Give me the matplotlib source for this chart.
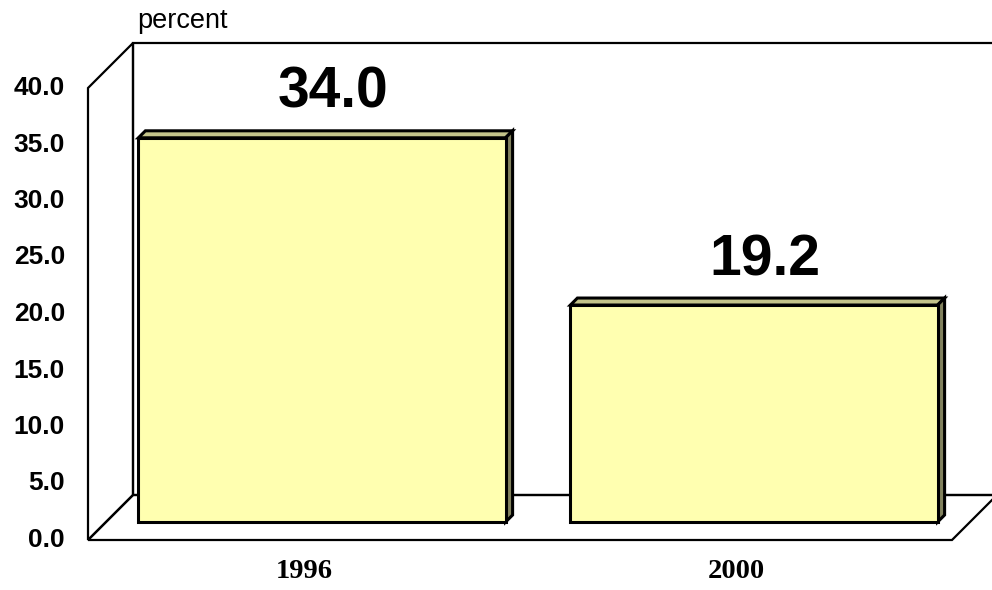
import matplotlib
matplotlib.use("Agg")
import matplotlib.pyplot as plt
from matplotlib.patches import Polygon

# Datos del gráfico
years = ["1996", "2000"]
values = [34.0, 19.2]
yticks = [0, 5, 10, 15, 20, 25, 30, 35, 40]

DPI = 100
fig = plt.figure(figsize=(9.92, 5.90), dpi=DPI)
ax = fig.add_axes([88 / 992, 50 / 590, 864 / 992, 452 / 590])
ax.set_xlim(0, 2)
ax.set_ylim(0, 40)
ax.axis("off")

# pixeles por unidad de datos, para convertir la profundidad 3D
x0, y0 = ax.transData.transform((0, 0))
x1, y1 = ax.transData.transform((1, 1))
ppx, ppy = x1 - x0, y1 - y0


def pt(x, y, d):
    """Punto (x, y) desplazado d pixeles en profundidad (arriba-derecha)."""
    return (x + d / ppx, y + d / ppy)


WALL = 45      # profundidad de las paredes en pixeles
D0, D1 = 18, 25  # profundidad de las barras
ymax = 40
wall_kw = dict(fill=False, edgecolor="black", linewidth=1.6, clip_on=False, zorder=1)

# pared del fondo
ax.add_patch(Polygon([pt(0, 0, WALL), pt(0, ymax, WALL), pt(2, ymax, WALL), pt(2, 0, WALL)],
                     closed=True, **wall_kw))
# pared lateral izquierda
ax.add_patch(Polygon([pt(0, 0, 0), pt(0, ymax, 0), pt(0, ymax, WALL), pt(0, 0, WALL)],
                     closed=True, **wall_kw))
# suelo
ax.add_patch(Polygon([pt(0, 0, 0), pt(2, 0, 0), pt(2, 0, WALL), pt(0, 0, WALL)],
                     closed=True, **wall_kw))

front_c = "#FFFFB0"
top_c = "#C4C48A"
side_c = "#82825E"
bw = 0.85
bar_kw = dict(closed=True, edgecolor="black", linewidth=2.2, joinstyle="miter",
              clip_on=False, zorder=3)

for i, (lab, v) in enumerate(zip(years, values)):
    xc = i + 0.5
    xl, xr = xc - bw / 2, xc + bw / 2
    # cara superior
    ax.add_patch(Polygon([pt(xl, v, D0), pt(xr, v, D0), pt(xr, v, D1), pt(xl, v, D1)],
                         facecolor=top_c, **bar_kw))
    # cara lateral
    ax.add_patch(Polygon([pt(xr, 0, D0), pt(xr, v, D0), pt(xr, v, D1), pt(xr, 0, D1)],
                         facecolor=side_c, **bar_kw))
    # cara frontal
    ax.add_patch(Polygon([pt(xl, 0, D0), pt(xr, 0, D0), pt(xr, v, D0), pt(xl, v, D0)],
                         facecolor=front_c, **bar_kw))
    # etiqueta del valor
    ax.annotate(f"{v:.1f}", xy=pt(xc, v, D1), xytext=(4, 11), textcoords="offset pixels",
                ha="center", va="bottom", fontsize=41, fontweight="bold",
                family="Liberation Sans", annotation_clip=False)
    # etiqueta de la categoría
    ax.annotate(lab, xy=(xc, 0), xytext=(0, -32), textcoords="offset pixels",
                ha="center", va="center", fontsize=20.5, fontweight="bold",
                family="Liberation Serif", annotation_clip=False)

# etiquetas del eje y
for t in yticks:
    ax.annotate(f"{t:.1f}", xy=(0, t), xytext=(-23, 0), textcoords="offset pixels",
                ha="right", va="center", fontsize=19, fontweight="bold",
                family="Liberation Sans", annotation_clip=False)

ax.annotate("percent", xy=pt(0, ymax, WALL), xytext=(4, 22), textcoords="offset pixels",
            ha="left", va="center", fontsize=19.5, family="Liberation Sans",
            annotation_clip=False)

fig.savefig("out.png", dpi=DPI)
